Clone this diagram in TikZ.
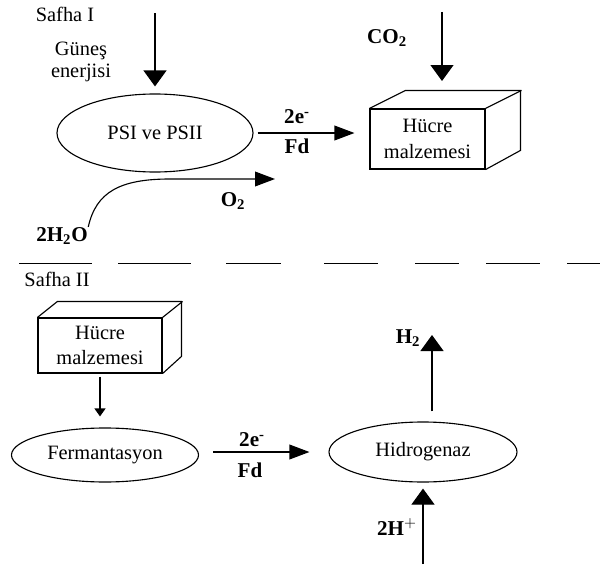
\documentclass[tikz,border=0pt]{standalone}
\usepackage{fontspec}
\setmainfont{Liberation Serif}
\usetikzlibrary{arrows.meta,shapes.geometric}

\begin{document}
\begin{tikzpicture}[
    line width=0.028cm,
    txt/.style={inner sep=0pt, align=center, font=\fontsize{14.5}{18}\selectfont},
    chem/.style={inner sep=0pt, font=\fontsize{15}{18}\selectfont\bfseries},
    oval/.style={draw, ellipse, inner sep=0pt, font=\fontsize{14.5}{18}\selectfont},
    cube/.style={draw, rectangle, inner sep=0pt, align=center, font=\fontsize{14.5}{18}\selectfont},
    bigtip/.style={-{Triangle[length=0.4cm,width=0.575cm]}},
    sidetip/.style={-{Triangle[length=0.5cm,width=0.37cm]}},
    smalltip/.style={-{Triangle[length=0.2cm,width=0.275cm]}}
  ]
  \useasboundingbox (0,0) rectangle (15.000000,14.100000);

  % Safha I labels
  \node [txt] (safha1) at (1.625000,13.750000) {Safha I};%
  \node [txt, font=\fontsize{14.5}{15.5}\selectfont] (gunes) at (2.025000,12.550000) {Güneş\\enerjisi};%

  % Drawing ellipse PSI ve PSII
  \node [oval, minimum width=4.900000cm, minimum height=1.950000cm] (ps) at (3.875000,10.775000) {PSI ve PSII};%

  % Drawing box Hucre malzemesi (top)
  \node [cube, minimum width=2.875000cm, minimum height=1.500000cm] (box1) at (10.687500,10.625000) {Hücre\\malzemesi};%
  \draw (box1.north west) -- ++(0.900000,0.450000) -- ++(2.875000,0.000000) -- ++(0.000000,-1.500000) -- (box1.south east);%
  \draw (box1.north east) -- ++(0.900000,0.450000);%

  % Sun light onto PSI ve PSII
  \coordinate (sun) at (3.875000,13.775000);%
  \draw [bigtip, shorten >=0.175cm] (sun) -- (ps.north);%

  % CO2 into the box
  \node [chem] (co2) at (9.675000,13.150000) {CO\textsubscript{2}};%
  \coordinate (co2top) at (11.050000,13.800000);%
  \coordinate (co2tip) at (11.050000,12.075000);%
  \draw [bigtip] (co2top) -- (co2tip);%

  % Electrons from PSI ve PSII to the box
  \draw [sidetip, shorten <=0.100cm, shorten >=0.375cm] (ps.east) -- (ps.east -| box1.west);%
  \node [chem] (e1) at (7.425000,11.175000) {2e\textsuperscript{-}};%
  \node [chem] (fd1) at (7.425000,10.450000) {Fd};%

  % Water to oxygen
  \node [chem] (h2o) at (1.550000,8.200000) {2H\textsubscript{2}O};%
  \coordinate (o2tip) at (6.875000,9.625000);%
  \draw [sidetip] (h2o.north east) .. controls (2.400000,9.300000) and (3.000000,9.625000) .. (4.250000,9.625000) -- (o2tip);%
  \node [chem] (o2) at (5.825000,9.075000) {O\textsubscript{2}};%

  % Dashed separation line
  \foreach \xa/\xb in {0.475/2.300, 2.950/4.775, 5.650/7.025, 8.100/9.450, 10.375/11.475, 12.150/13.500, 14.175/15.000}
    \draw (\xa,7.510000) -- (\xb,7.510000);%

  % Safha II label
  \node [txt] (safha2) at (1.425000,7.125000) {Safha II};%

  % Drawing box Hucre malzemesi (bottom)
  \node [cube, minimum width=3.100000cm, minimum height=1.375000cm] (box2) at (2.500000,5.462500) {Hücre\\malzemesi};%
  \draw (box2.north west) -- ++(0.500000,0.400000) -- ++(3.100000,0.000000) -- ++(0.000000,-1.375000) -- (box2.south east);%
  \draw (box2.north east) -- ++(0.500000,0.400000);%

  % Drawing ellipse Fermantasyon
  \node [oval, minimum width=4.675000cm, minimum height=1.350000cm] (ferm) at (2.625000,2.725000) {Fermantasyon};%
  \draw [smalltip, shorten <=0.075cm, shorten >=0.275cm] (box2.south) -- (box2.south |- ferm.north);%

  % Drawing ellipse Hidrogenaz
  \node [oval, minimum width=4.700000cm, minimum height=1.500000cm] (hid) at (10.575000,2.800000) {Hidrogenaz};%

  % Electrons from Fermantasyon to Hidrogenaz
  \draw [sidetip, shorten <=0.360cm, shorten >=0.475cm] (ferm.east |- hid.west) -- (hid.west);%
  \node [chem] (e2) at (6.300000,3.100000) {2e\textsuperscript{-}};%
  \node [chem] (fd2) at (6.250000,2.350000) {Fd};%

  % Hydrogen out
  \coordinate (h2tip) at (10.800000,5.725000);%
  \draw [bigtip, shorten <=0.250cm] (hid.north -| h2tip) -- (h2tip);%
  \node [chem] (h2) at (10.200000,5.650000) {H\textsubscript{2}};%

  % Protons in
  \coordinate (hplus) at (10.575000,0.000000);%
  \draw [bigtip, shorten >=0.150cm] (hplus) -- (hid.south);%
  \node [chem] (h2p) at (9.925000,0.925000) {2H$^{+}$};%
\end{tikzpicture}
\end{document}
